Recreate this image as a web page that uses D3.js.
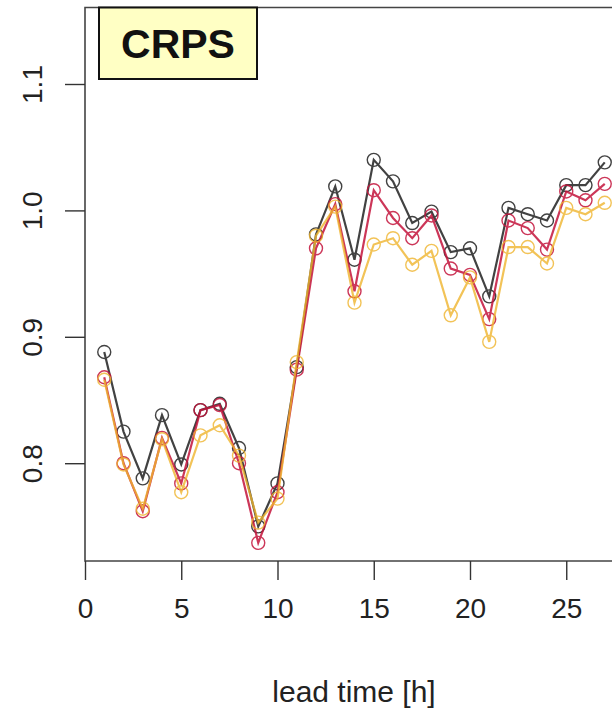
<!DOCTYPE html>
<html>
<head>
<meta charset="utf-8">
<script src="https://cdn.jsdelivr.net/npm/d3@7"></script>
<style>
  body { margin: 0; background: #fff; }
  svg { display: block; font-family: "Liberation Sans", Arial, sans-serif; }
</style>
</head>
<body>
<div id="chart"></div>
<script>
// lead times shown in the crop
var leadTime = [1, 2, 3, 4, 5, 6, 7, 8, 9, 10, 11, 12, 13, 14, 15, 16, 17, 18, 19, 20, 21, 22, 23, 24, 25, 26, 27];

// CRPS per lead time, one array per method
var crpsBlack = [0.888, 0.825, 0.788, 0.838, 0.799, 0.842, 0.847, 0.812, 0.750, 0.784, 0.876, 0.981, 1.019, 0.961,
                 1.040, 1.023, 0.990, 0.999, 0.967, 0.970, 0.932, 1.002, 0.997, 0.992, 1.020, 1.020, 1.038];
var crpsRed   = [0.868, 0.800, 0.762, 0.820, 0.784, 0.842, 0.846, 0.800, 0.737, 0.777, 0.874, 0.970, 1.005, 0.936,
                 1.016, 0.994, 0.978, 0.996, 0.954, 0.949, 0.914, 0.992, 0.986, 0.969, 1.015, 1.008, 1.021];
var crpsGold  = [0.866, 0.799, 0.764, 0.819, 0.777, 0.822, 0.830, 0.806, 0.753, 0.772, 0.880, 0.980, 1.003, 0.927,
                 0.973, 0.978, 0.957, 0.968, 0.917, 0.947, 0.896, 0.971, 0.971, 0.958, 1.002, 0.997, 1.006];

var xTicks = [0, 5, 10, 15, 20, 25];
var yTicks = [0.8, 0.9, 1.0, 1.1];

var series = [
    {name: "black", values: crpsBlack, color: "#2e2e2e", alpha: 0.9},
    {name: "red",   values: crpsRed,   color: "#c4143c", alpha: 0.85},
    {name: "gold",  values: crpsGold,  color: "#f0b52e", alpha: 0.8}
];

var W = 612, H = 711;
var plotLeft = 85, plotTop = 7.5, plotBottom = 561;

var svg = d3.select("#chart").append("svg")
    .attr("width", W)
    .attr("height", H);

// x: 0 sits on the left box edge, 19.25 px per hour
var x = d3.scaleLinear().domain([0, 1]).range([plotLeft, plotLeft + 19.25]);
// y: 1.1 -> 84px, 0.8 -> 463px
var y = d3.scaleLinear().domain([0.8, 1.1]).range([463.2, 84]);

// plot frame (right side runs off the picture)
svg.append("path")
    .attr("d", "M" + (W + 5) + "," + plotTop + "H" + plotLeft + "V" + plotBottom + "H" + (W + 5))
    .attr("fill", "none")
    .attr("stroke", "#444")
    .attr("stroke-width", 1.6);

// x axis
var xAxis = svg.append("g")
    .attr("transform", "translate(0," + plotBottom + ")")
    .call(d3.axisBottom(x).tickValues(xTicks).tickSize(19).tickPadding(18).tickFormat(d3.format("d")));
xAxis.select(".domain").remove();
xAxis.selectAll("line").attr("stroke", "#333").attr("stroke-width", 1.4);
xAxis.selectAll("text")
    .attr("fill", "#222")
    .style("font-size", "28px");

// y axis with rotated labels
var yAxis = svg.append("g")
    .attr("transform", "translate(" + plotLeft + ",0)")
    .call(d3.axisLeft(y).tickValues(yTicks).tickSize(20).tickFormat(d3.format(".1f")));
yAxis.select(".domain").remove();
yAxis.selectAll("line").attr("stroke", "#333").attr("stroke-width", 1.4);
yAxis.selectAll("text")
    .attr("x", null).attr("dy", null)
    .attr("text-anchor", "middle")
    .attr("transform", "translate(-43,0) rotate(-90)")
    .attr("fill", "#222")
    .style("font-size", "28px");

// x axis title
svg.append("text")
    .attr("x", 354)
    .attr("y", 702)
    .attr("text-anchor", "middle")
    .attr("fill", "#222")
    .style("font-size", "30px")
    .text("lead time [h]");

// lines and open circles
var line = d3.line()
    .x(function(d, i) { return x(leadTime[i]); })
    .y(function(d) { return y(d); });

series.forEach(function(s) {
    var g = svg.append("g").attr("class", "series " + s.name).attr("opacity", s.alpha);
    g.append("path")
        .attr("d", line(s.values))
        .attr("fill", "none")
        .attr("stroke", s.color)
        .attr("stroke-width", 2.2);
    g.selectAll("circle")
        .data(s.values)
        .enter()
        .append("circle")
        .attr("cx", function(d, i) { return x(leadTime[i]); })
        .attr("cy", function(d) { return y(d); })
        .attr("r", 6.5)
        .attr("fill", "none")
        .attr("stroke", s.color)
        .attr("stroke-width", 1.4);
});

// CRPS label box
svg.append("rect")
    .attr("x", 99).attr("y", 7.5)
    .attr("width", 158).attr("height", 71.5)
    .attr("fill", "#ffffc4")
    .attr("stroke", "#111")
    .attr("stroke-width", 2);
svg.append("text")
    .attr("x", 178).attr("y", 57.5)
    .attr("text-anchor", "middle")
    .attr("fill", "#111")
    .style("font-size", "41px")
    .style("font-weight", "bold")
    .text("CRPS");
</script>
</body>
</html>
